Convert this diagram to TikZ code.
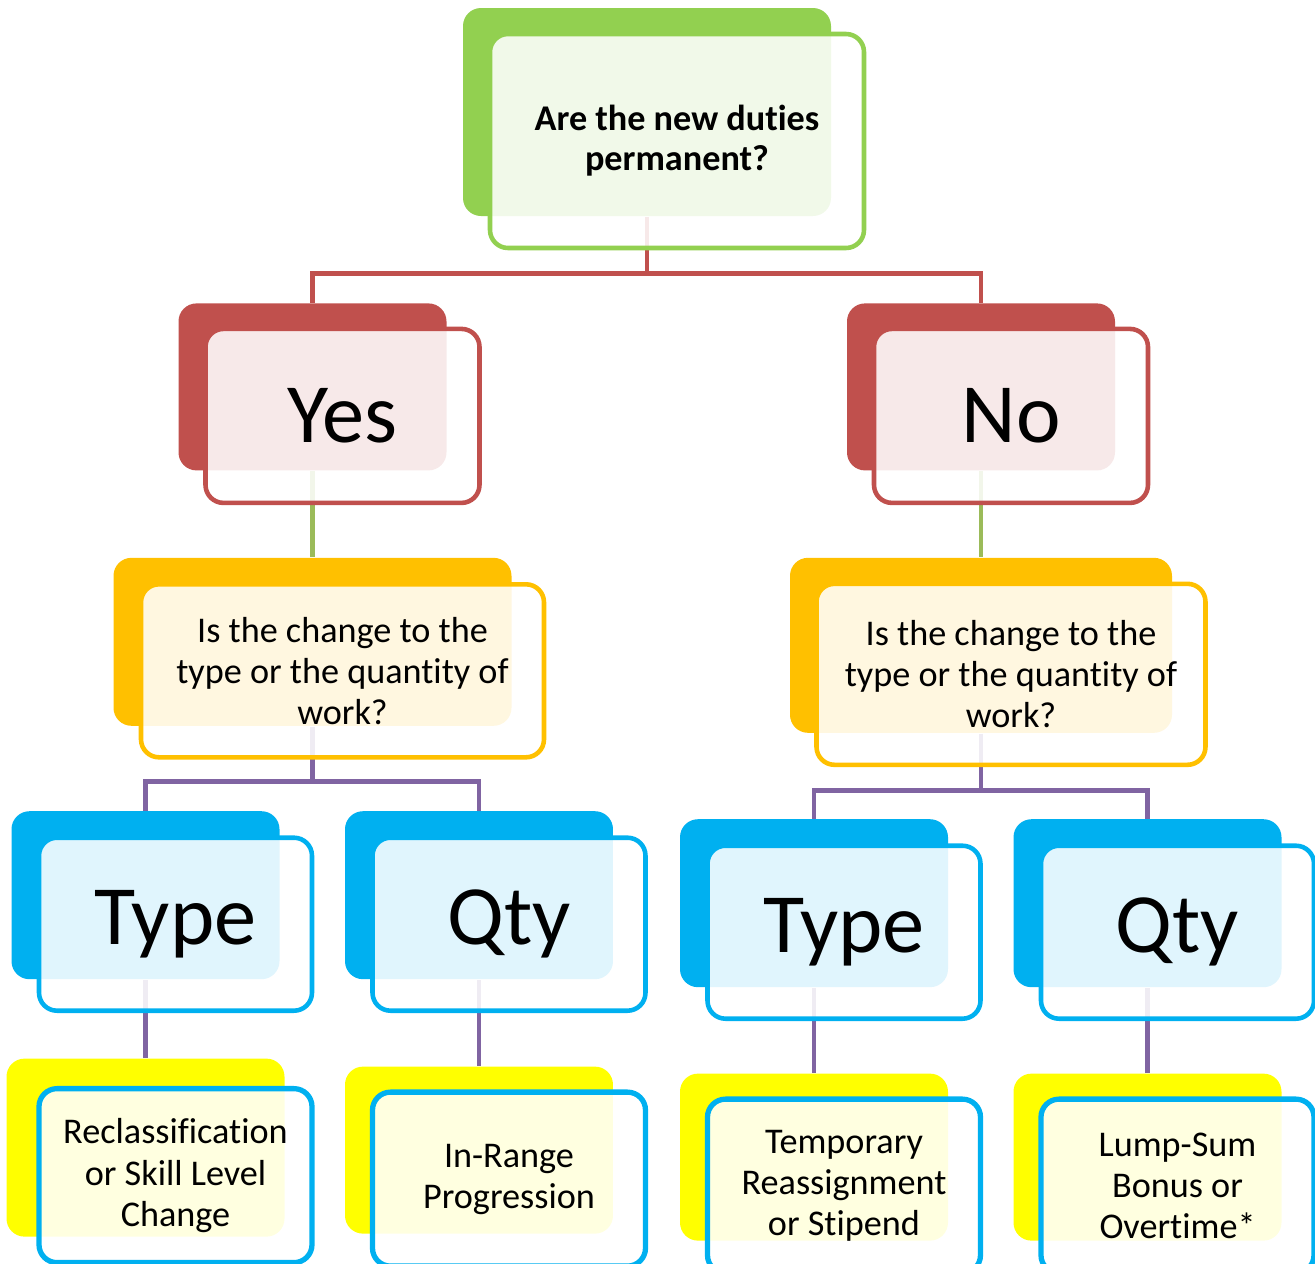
\documentclass[tikz,border=0pt]{standalone}
\usepackage{fontspec}
\setmainfont{Carlito}[Ligatures=NoCommon]
\usepackage{xcolor}
\usepackage{tikz}
\usetikzlibrary{positioning}

\definecolor{qgreen}{HTML}{92D050}
\definecolor{qred}{HTML}{C0504D}
\definecolor{qgold}{HTML}{FFC000}
\definecolor{qblue}{HTML}{00B0F0}
\definecolor{qyellow}{HTML}{FFFF00}
\definecolor{qpurple}{HTML}{8064A2}
\definecolor{qlime}{HTML}{9BBB59}

\begin{document}
\begin{tikzpicture}[node distance=0.86cm,
    font=\fontsize{10.3}{11.7}\selectfont,
    back/.style={rounded corners=0.18cm, inner sep=0pt,
                 minimum width=2.68cm, minimum height=1.68cm},
    front/.style={draw, line width=1.3pt, rounded corners=0.18cm,
                  fill=white, fill opacity=0.88, text opacity=1,
                  align=center, inner sep=0pt,
                  minimum width=2.73cm, minimum height=1.73cm,
                  xshift=0.3cm, yshift=-0.29cm},
    big/.style={font=\fontsize{24}{28}\selectfont},
    link/.style={line width=1.3pt}]
        \path[use as bounding box, clip] (0,0) rectangle (13.15,-12.64);

        % Question
        \node[back, fill=qgreen, minimum width=3.68cm, minimum height=2.08cm]
              (topb) at (6.47,-1.12) {};
        % Yes / No
        \node[back, fill=qred, minimum height=1.67cm, below=of topb, xshift=-3.345cm] (yesb) {};
        \node[back, fill=qred, minimum height=1.67cm, below=of topb, xshift=3.34cm] (nob) {};
        % Type or quantity
        \node[back, fill=qgold, minimum width=3.98cm, below=of yesb] (lqb) {};
        \node[back, fill=qgold, minimum width=3.82cm, minimum height=1.75cm,
              below=of nob] (rqb) {};
        % Type / Qty
        \node[back, fill=qblue, below=0.84cm of lqb, xshift=-1.67cm] (ltypeb) {};
        \node[back, fill=qblue, below=0.84cm of lqb, xshift=1.665cm] (lqtyb) {};
        \node[back, fill=qblue, below=0.85cm of rqb, xshift=-1.67cm] (rtypeb) {};
        \node[back, fill=qblue, below=0.85cm of rqb, xshift=1.665cm] (rqtyb) {};
        % Outcomes
        \node[back, fill=qyellow, minimum width=2.78cm, minimum height=1.78cm,
              below=0.78cm of ltypeb] (lrecb) {};
        \node[back, fill=qyellow, minimum height=1.67cm, below=0.86cm of lqtyb] (lrngb) {};
        \node[back, fill=qyellow, minimum height=1.67cm, below=0.85cm of rtypeb] (rtmpb) {};
        \node[back, fill=qyellow, minimum height=1.67cm, below=0.85cm of rqtyb] (rsumb) {};

        % Connectors
        \coordinate[below=0.57cm of topb] (topbus);
        \draw[link, qred] (topb.south) -- (topbus) -| (yesb.north);
        \draw[link, qred] (topbus) -| (nob.north);
        \draw[link, qlime] (yesb.south) -- (lqb.north);
        \draw[link, qlime] (nob.south) -- (rqb.north);
        \coordinate[below=0.55cm of lqb] (lbus);
        \draw[link, qpurple] (lqb.south) -- (lbus) -| (ltypeb.north);
        \draw[link, qpurple] (lbus) -| (lqtyb.north);
        \coordinate[below=0.57cm of rqb] (rbus);
        \draw[link, qpurple] (rqb.south) -- (rbus) -| (rtypeb.north);
        \draw[link, qpurple] (rbus) -| (rqtyb.north);
        \draw[link, qpurple] (ltypeb.south) -- (lrecb.north);
        \draw[link, qpurple] (lqtyb.south) -- (lrngb.north);
        \draw[link, qpurple] (rtypeb.south) -- (rtmpb.north);
        \draw[link, qpurple] (rqtyb.south) -- (rsumb.north);

        % Front cards
        \node[front, draw=qgreen, minimum width=3.74cm, minimum height=2.14cm,
              font=\fontsize{10.3}{11.4}\selectfont\bfseries]
              (topf) at (topb) {Are the new duties\\permanent?};
        \node[front, draw=qred, minimum width=2.74cm, minimum height=1.74cm, big]
              (yesf) at (yesb) {Yes};
        \node[front, draw=qred, minimum width=2.74cm, minimum height=1.74cm, big]
              (nof) at (nob) {No};
        \node[front, draw=qgold, minimum width=4.03cm]
              (lqf) at (lqb) {Is the change to the\\type or the quantity of\\work?};
        \node[front, draw=qgold, minimum width=3.89cm, minimum height=1.81cm]
              (rqf) at (rqb) {Is the change to the\\type or the quantity of\\work?};
        \node[front, draw=qblue, big] (ltypef) at (ltypeb) {Type};
        \node[front, draw=qblue, big] (lqtyf) at (lqtyb) {Qty};
        \node[front, draw=qblue, big] (rtypef) at (rtypeb) {Type};
        \node[front, draw=qblue, big] (rqtyf) at (rqtyb) {Qty};
        \node[front, draw=qblue, line width=1.5pt, minimum height=1.74cm, yshift=0.01cm]
              (lrecf) at (lrecb) {Reclassification\\or Skill Level\\Change};
        \node[front, draw=qblue, line width=1.5pt, minimum height=1.74cm]
              (lrngf) at (lrngb) {In-Range\\Progression};
        \node[front, draw=qblue, line width=1.5pt, minimum height=1.74cm]
              (rtmpf) at (rtmpb) {Temporary\\Reassignment\\or Stipend};
        \node[front, draw=qblue, line width=1.5pt, minimum height=1.74cm]
              (rsumf) at (rsumb) {Lump-Sum\\Bonus or\\Overtime*};
    \end{tikzpicture}
\end{document}
